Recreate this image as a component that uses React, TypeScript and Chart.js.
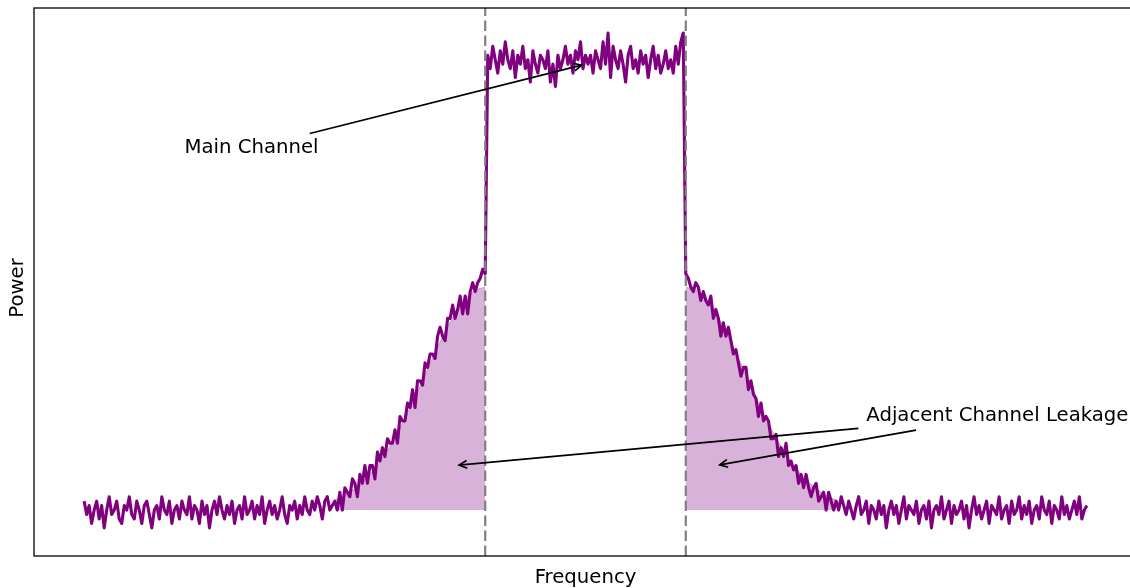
import { useEffect, useRef } from "react";
import { Chart, registerables } from "chart.js";

Chart.register(...registerables);

// ---- data (power in % of main-channel level, frequency in arbitrary units) ----
const F_START = -50;
const F_STEP = 0.25;

const floorLeft = [
  2, -1, 1, -3, 0, 2, -2, 1, -4, 0,
  3, -1, 0, 2, -2, -3, 1, 0, 3, -1,
  -2, 2, 0, -3, 1, 2, -1, -4, 0, 1,
  -2, 3, 0, -1, 2, -3, 0, 1, -2, 2,
  0, -1, 3, -2, 1, 0, -3, 2, -1, 1,
  -4, 0, 2, -1, 3, 0, -2, 1, -1, 2,
  -3, 0, 1, -2, 3, -1, 0, 2, -2, 1,
  -1, 3, -3, 0, 2, -1, 1, -2, 0, 3,
  -1, -3, 1, 0, 2, -2, 1, -1, 3, 0,
  -1, 2, 0, 3, 1, -2, 2, 3, 0, 1,
  2,
];

const riseLeft = [
  0, 4, 0, 5, 4, 3, 7, 6, 3, 8,
  6, 10, 6, 10, 10, 7, 13, 11, 14, 12,
  16, 15, 15, 18, 15, 21, 20, 20, 24, 23,
  27, 23, 29, 29, 28, 33, 32, 35, 35, 34,
  39, 41, 39, 38, 43, 43, 46, 43, 45, 48,
  44, 48, 44, 49, 51, 49, 51, 52, 54, 53,
];

const mainTop = [
  102, 99, 104, 101, 98, 103, 100, 105, 101, 99,
  103, 97, 102, 100, 104, 99, 101, 96, 103, 100,
  98, 102, 101, 99, 103, 96, 100, 95, 102, 99,
  101, 104, 100, 102, 98, 103, 101, 105, 99, 102,
  100, 102, 98, 103, 101, 99, 105, 100, 107, 97,
  104, 101, 99, 103, 100, 96, 102, 104, 99, 101,
  98, 103, 100, 102, 97, 101, 104, 99, 102, 98,
  100, 103, 99, 101, 98, 104, 100, 105, 107,
];

const fallRight = [
  53, 52, 50, 49, 51, 50, 47, 49, 47, 46,
  48, 43, 45, 43, 39, 42, 39, 41, 38, 35,
  36, 33, 30, 32, 32, 27, 29, 26, 25, 21,
  24, 20, 21, 20, 16, 16, 17, 12, 14, 12,
  15, 10, 11, 9, 10, 6, 8, 5, 8, 5,
  3, 5, 6, 2, 3, 4, 0, 4, 2, 0,
];

const floorRight = [
  2, 0, 3, 1, -1, 2, 0, -2, 1, 3,
  -1, 0, 2, -3, 1, 0, -2, 2, -1, 1,
  -4, 0, 2, -1, 1, -3, 0, 3, -2, 1,
  0, -1, 2, -3, 0, 1, -2, 2, -4, 0,
  1, -1, 3, -2, 0, 2, -3, 1, -1, 0,
  2, -2, 1, -4, 0, 3, -1, 1, -2, 0,
  2, -3, 1, 0, -1, 3, -2, 0, 1, -3,
  2, -1, 0, 3, -2, 1, -1, 2, -3, 0,
  1, -2, 3, 0, -1, 2, -3, 1, 0, -2,
  3, -1, 1, -2, 0, 2, -1, 3, -2, 0,
  1,
];

const power = [...floorLeft, ...riseLeft, ...mainTop, ...fallRight, ...floorRight];
const frequency = power.map((_, i) => F_START + i * F_STEP);

// smooth leakage envelope (shaded regions)
const leakFreqLeft = [-25, -24, -23, -22, -21, -20, -19, -18, -17, -16, -15, -14, -13, -12, -11, -10];
const leakLeft = [2.2, 3.3, 4.8, 6.8, 9.3, 12.5, 16.2, 20.6, 25.3, 30.3, 35.3, 40.0, 44.1, 47.3, 49.3, 50.0];
const leakFreqRight = [10, 11, 12, 13, 14, 15, 16, 17, 18, 19, 20, 21, 22, 23, 24, 25];
const leakRight = [50.0, 49.3, 47.3, 44.1, 40.0, 35.3, 30.3, 25.3, 20.6, 16.2, 12.5, 9.3, 6.8, 4.8, 3.3, 2.2];

const channelEdges = [-10, 10];

const annLabels = ["Main Channel", "Adjacent Channel Leakage", "Adjacent Channel Leakage"];
const annTextX = [-40, 28, 28];
const annTextY = [80, 20, 20];
const annTargetX = [0, -13, 13];
const annTargetY = [100, 10, 10];

const X_MIN = -55;
const X_MAX = 55;
const Y_MIN = -10.3;
const Y_MAX = 112.6;

const FONT_PX = 19.7;
const FONT = `${FONT_PX}px "DejaVu Sans"`;

const overlay = {
  id: "overlay",
  afterDatasetsDraw(chart: any) {
    const { ctx, chartArea: a, scales } = chart;
    const xs = scales.x;
    ctx.save();
    ctx.strokeStyle = "#808080";
    ctx.lineWidth = 2.2;
    ctx.setLineDash([10.5, 4.5]);
    for (const e of channelEdges) {
      const px = xs.getPixelForValue(e);
      ctx.beginPath();
      ctx.moveTo(px, a.bottom);
      ctx.lineTo(px, a.top);
      ctx.stroke();
    }
    ctx.restore();
  },
  afterDraw(chart: any) {
    const { ctx, chartArea: a, scales } = chart;
    const xs = scales.x;
    const ys = scales.y;
    ctx.save();
    // frame
    ctx.strokeStyle = "#000";
    ctx.lineWidth = 1.3;
    ctx.strokeRect(a.left, a.top, a.right - a.left, a.bottom - a.top);

    // axis titles
    ctx.fillStyle = "#000";
    ctx.font = FONT;
    ctx.textAlign = "center";
    ctx.textBaseline = "alphabetic";
    ctx.fillText("Frequency", (a.left + a.right) / 2, 583);
    ctx.save();
    ctx.translate(23, 288);
    ctx.rotate(-Math.PI / 2);
    ctx.fillText("Power", 0, 0);
    ctx.restore();

    // annotations
    ctx.textAlign = "left";
    const drawn = new Set<string>();
    const pad = FONT_PX * 0.2;
    const shrink = FONT_PX * 0.2;
    const headLen = FONT_PX * 0.4;
    const headHalf = FONT_PX * 0.2;
    for (let i = 0; i < annLabels.length; i++) {
      const label = annLabels[i];
      const tx = xs.getPixelForValue(annTextX[i]);
      const ty = ys.getPixelForValue(annTextY[i]);
      const w = ctx.measureText(label).width;
      const key = label + tx + "," + ty;
      if (!drawn.has(key)) {
        ctx.fillStyle = "#000";
        ctx.fillText(label, tx, ty);
        drawn.add(key);
      }
      const top = ty - 0.76 * FONT_PX - pad;
      const bottom = ty + 0.23 * FONT_PX + pad;
      const left = tx - pad;
      const right = tx + w + pad;
      const cx = tx + w / 2;
      const cy = ty - (0.76 * FONT_PX - 0.23 * FONT_PX) / 2;
      const px = xs.getPixelForValue(annTargetX[i]);
      const py = ys.getPixelForValue(annTargetY[i]);
      const dx = px - cx;
      const dy = py - cy;
      const len = Math.hypot(dx, dy);
      const ux = dx / len;
      const uy = dy / len;
      const sx = dx !== 0 ? ((dx > 0 ? right : left) - cx) / dx : Infinity;
      const sy = dy !== 0 ? ((dy > 0 ? bottom : top) - cy) / dy : Infinity;
      const s = Math.min(sx, sy);
      const x0 = cx + dx * s + ux * shrink;
      const y0 = cy + dy * s + uy * shrink;
      const x1 = px - ux * shrink;
      const y1 = py - uy * shrink;
      ctx.strokeStyle = "#000";
      ctx.lineWidth = 1.7;
      ctx.lineCap = "butt";
      ctx.lineJoin = "miter";
      ctx.beginPath();
      ctx.moveTo(x0, y0);
      ctx.lineTo(x1, y1);
      ctx.stroke();
      const nx = -uy;
      const ny = ux;
      ctx.beginPath();
      ctx.moveTo(x1 - ux * headLen + nx * headHalf, y1 - uy * headLen + ny * headHalf);
      ctx.lineTo(x1, y1);
      ctx.lineTo(x1 - ux * headLen - nx * headHalf, y1 - uy * headLen - ny * headHalf);
      ctx.stroke();
    }
    ctx.restore();
  },
};

export default function App() {
  const ref = useRef<HTMLCanvasElement>(null);
  useEffect(() => {
    if (!ref.current) return;
    const chart = new Chart(ref.current, {
      type: "line",
      data: {
        datasets: [
          {
            data: frequency.map((f, i) => ({ x: f, y: power[i] })),
            borderColor: "#800080",
            borderWidth: 3.1,
            borderJoinStyle: "round",
            pointRadius: 0,
            fill: false,
            tension: 0,
          },
          {
            data: leakFreqLeft.map((f, i) => ({ x: f, y: leakLeft[i] })),
            borderColor: "rgba(128,0,128,0.3)",
            backgroundColor: "rgba(128,0,128,0.3)",
            borderWidth: 1,
            pointRadius: 0,
            fill: "origin",
            cubicInterpolationMode: "monotone",
          },
          {
            data: leakFreqRight.map((f, i) => ({ x: f, y: leakRight[i] })),
            borderColor: "rgba(128,0,128,0.3)",
            backgroundColor: "rgba(128,0,128,0.3)",
            borderWidth: 1,
            pointRadius: 0,
            fill: "origin",
            cubicInterpolationMode: "monotone",
          },
        ],
      },
      options: {
        animation: false,
        responsive: false,
        devicePixelRatio: 1,
        events: [],
        layout: { padding: { left: 34, top: 8, right: 23, bottom: 32 } },
        plugins: { legend: { display: false }, tooltip: { enabled: false } },
        scales: {
          x: { type: "linear", min: X_MIN, max: X_MAX, display: false },
          y: { type: "linear", min: Y_MIN, max: Y_MAX, display: false },
        },
      },
      plugins: [overlay],
    } as any);
    return () => chart.destroy();
  }, []);
  return (
    <div
      style={{
        position: "fixed",
        left: 0,
        top: 0,
        width: 1130,
        height: 588,
        overflow: "hidden",
        background: "#fff",
      }}
    >
      <canvas ref={ref} width={1160} height={588} style={{ display: "block" }} />
    </div>
  );
}
